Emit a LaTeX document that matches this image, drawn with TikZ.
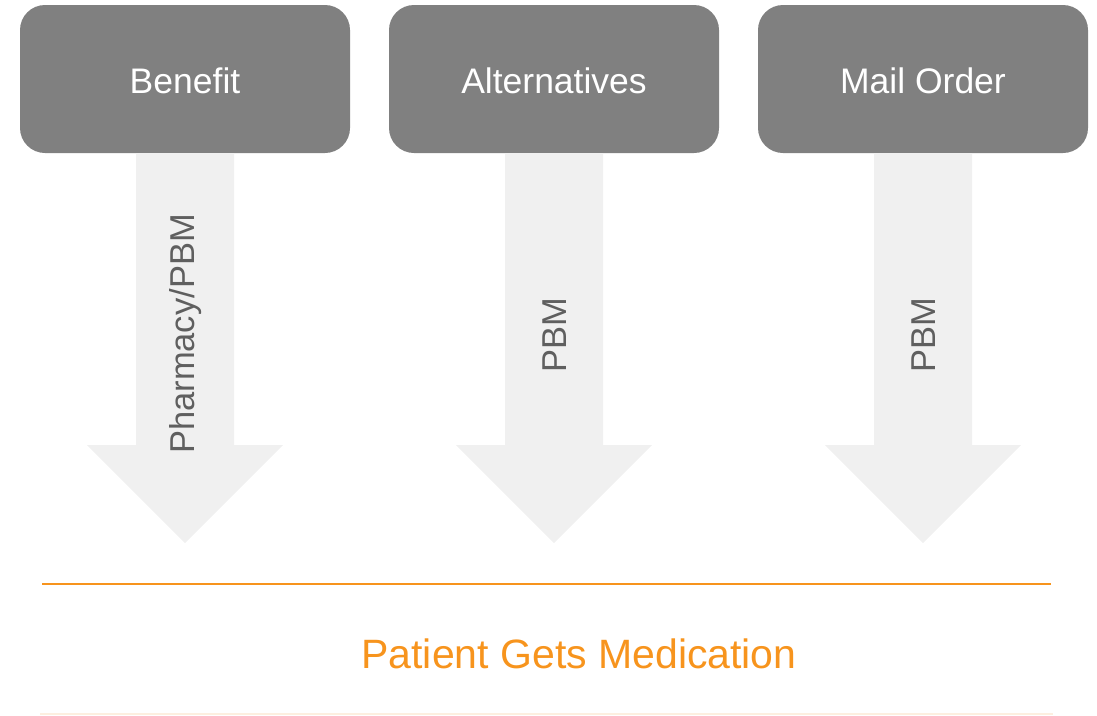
\documentclass[tikz,border=0pt]{standalone}
\usepackage{fontspec}
\setmainfont{Liberation Sans}
\definecolor{boxgray}{HTML}{808080}
\definecolor{arrowfill}{HTML}{F0F0F0}
\definecolor{lblgray}{HTML}{5F5F5F}
\definecolor{orng}{HTML}{F7941D}
\definecolor{faintorng}{HTML}{FDEFE0}
\begin{document}
\begin{tikzpicture}[x=1pt,y=-1pt,
  box/.style={fill=boxgray, rounded corners=25pt, minimum width=330pt, minimum height=148pt,
    inner sep=0pt, text=white, text height=30pt, font=\fontsize{35.5}{42}\selectfont},
  arrowlbl/.style={rotate=90, text=lblgray, font=\fontsize{34.5}{40}\selectfont, inner sep=0pt},
  bigarrow/.style={fill=arrowfill}]
\useasboundingbox (0,0) rectangle (1097,715);
\node[box] (benefit) at (185,79) {Benefit};
\node[box] (alt) at (554,79) {Alternatives};
\node[box] (mail) at (923,79) {Mail Order};
\foreach \n in {benefit,alt,mail}{
  \fill[bigarrow] (\n.south) ++(-49,0) -- ++(98,0) -- ++(0,292) -- ++(49,0)
    -- ++(-98,98) -- ++(-98,-98) -- ++(49,0) -- cycle;
}
\node[arrowlbl] (l1) at (186,334) {Pharmacy/PBM};
\node[arrowlbl] (l2) at (555,335) {PBM};
\node[arrowlbl] (l3) at (924,335) {PBM};
\coordinate (topL) at (42,584);
\coordinate (topR) at (1051,584);
\coordinate (botL) at (40,714);
\coordinate (botR) at (1053,714);
\draw[orng, line width=1.3pt] (topL) -- (topR);
\draw[faintorng, line width=1.2pt] (botL) -- (botR);
\node[text=orng, font=\fontsize{41}{48}\selectfont, inner sep=0pt] (patient) at (579,654) {Patient Gets Medication};
\end{tikzpicture}
\end{document}
